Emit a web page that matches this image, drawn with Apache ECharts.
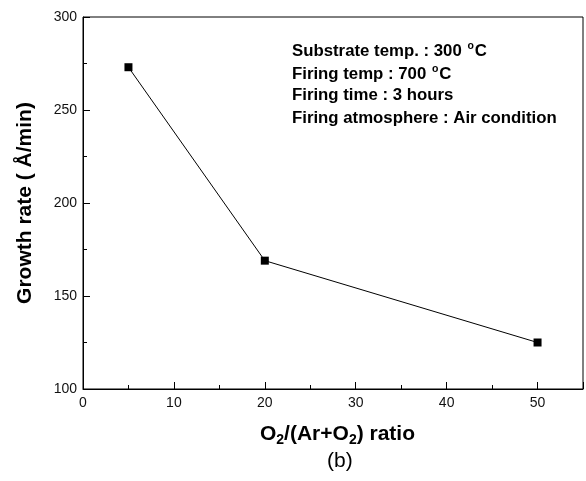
<!DOCTYPE html>
<html>
<head>
<meta charset="utf-8">
<script src="https://cdn.jsdelivr.net/npm/echarts@6/dist/echarts.min.js"></script>
<style>html,body{margin:0;padding:0;background:#fff}#c{width:586px;height:481px}</style>
</head>
<body>
<div id="c"></div>
<script>
var xValues = [5, 20, 50];
var growthRate = [273, 169, 125];
var xTicks = [0, 10, 20, 30, 40, 50];
var yTicks = [100, 150, 200, 250, 300];
var notes = [
  ['Substrate temp. : 300 ', 'o', 'C'],
  ['Firing temp : 700 ', 'o', 'C'],
  ['Firing time : 3 hours'],
  ['Firing atmosphere : Air condition']
];

var FONT = '"Liberation Sans", Arial, sans-serif';
var chart = echarts.init(document.getElementById('c'));

function noteText(parts) {
  if (parts.length === 1) return '{t|' + parts[0] + '}';
  return '{t|' + parts[0] + '}{sup|' + parts[1] + '}{t|' + parts[2] + '}';
}

var graphics = notes.map(function (p, i) {
  return {
    type: 'text', left: 292, top: 41 + i * 23,
    style: {
      text: noteText(p), fontFamily: FONT,
      rich: {
        t: { fontSize: 16.8, fontWeight: 'bold', fill: '#000', fontFamily: FONT, lineHeight: 20 },
        sup: { fontSize: 10.5, fontWeight: 'bold', fill: '#000', fontFamily: FONT, verticalAlign: 'top', lineHeight: 20, padding: [0, 1, 0, 1] }
      }
    }
  };
});
graphics.push({
  type: 'text', left: 327, top: 451,
  style: { text: '(b)', fontSize: 21, fontFamily: FONT, fill: '#000' }
});

chart.setOption({
  animation: false,
  grid: { left: 83, right: 2, top: 17, bottom: 92, show: true, borderColor: '#000', borderWidth: 1 },
  xAxis: {
    type: 'value', min: 0, max: 55, interval: 10,
    axisLine: { lineStyle: { color: '#000', width: 1 } },
    axisTick: { inside: true, length: 7, lineStyle: { color: '#000' } },
    minorTick: { show: true, splitNumber: 2, length: 4, lineStyle: { color: '#000' } },
    splitLine: { show: false },
    axisLabel: {
      color: '#111', fontSize: 14, fontFamily: FONT, margin: 7,
      formatter: function (v) { return xTicks.indexOf(v) >= 0 ? String(v) : ''; }
    },
    name: '{a|O}{s|2}{a|/(Ar+O}{s|2}{a|) ratio}',
    nameLocation: 'middle', nameGap: 32,
    nameTextStyle: {
      padding: [0, 0, 0, 9],
      rich: {
        a: { fontSize: 21, fontWeight: 'bold', fontFamily: FONT, color: '#000', lineHeight: 26 },
        s: { fontSize: 14, fontWeight: 'bold', fontFamily: FONT, color: '#000', lineHeight: 26, verticalAlign: 'bottom' }
      }
    }
  },
  yAxis: {
    type: 'value', min: 100, max: 300, interval: 50,
    axisLine: { show: true, lineStyle: { color: '#000', width: 1 } },
    axisTick: { show: true, inside: true, length: 7, lineStyle: { color: '#000' } },
    minorTick: { show: true, splitNumber: 2, length: 4, lineStyle: { color: '#000' } },
    splitLine: { show: false },
    axisLabel: {
      color: '#111', fontSize: 14, fontFamily: FONT, margin: 6,
      formatter: function (v) { return yTicks.indexOf(v) >= 0 ? String(v) : ''; }
    },
    name: 'Growth rate ( \u00C5/min)',
    nameLocation: 'middle', nameGap: 47,
    nameTextStyle: { fontSize: 21, fontWeight: 'bold', fontFamily: FONT, color: '#000' }
  },
  graphic: graphics,
  series: [{
    type: 'line',
    data: xValues.map(function (x, i) { return [x, growthRate[i]]; }),
    symbol: 'rect', symbolSize: 8,
    itemStyle: { color: '#000' },
    lineStyle: { color: '#000', width: 1 }
  }]
});
</script>
</body>
</html>
